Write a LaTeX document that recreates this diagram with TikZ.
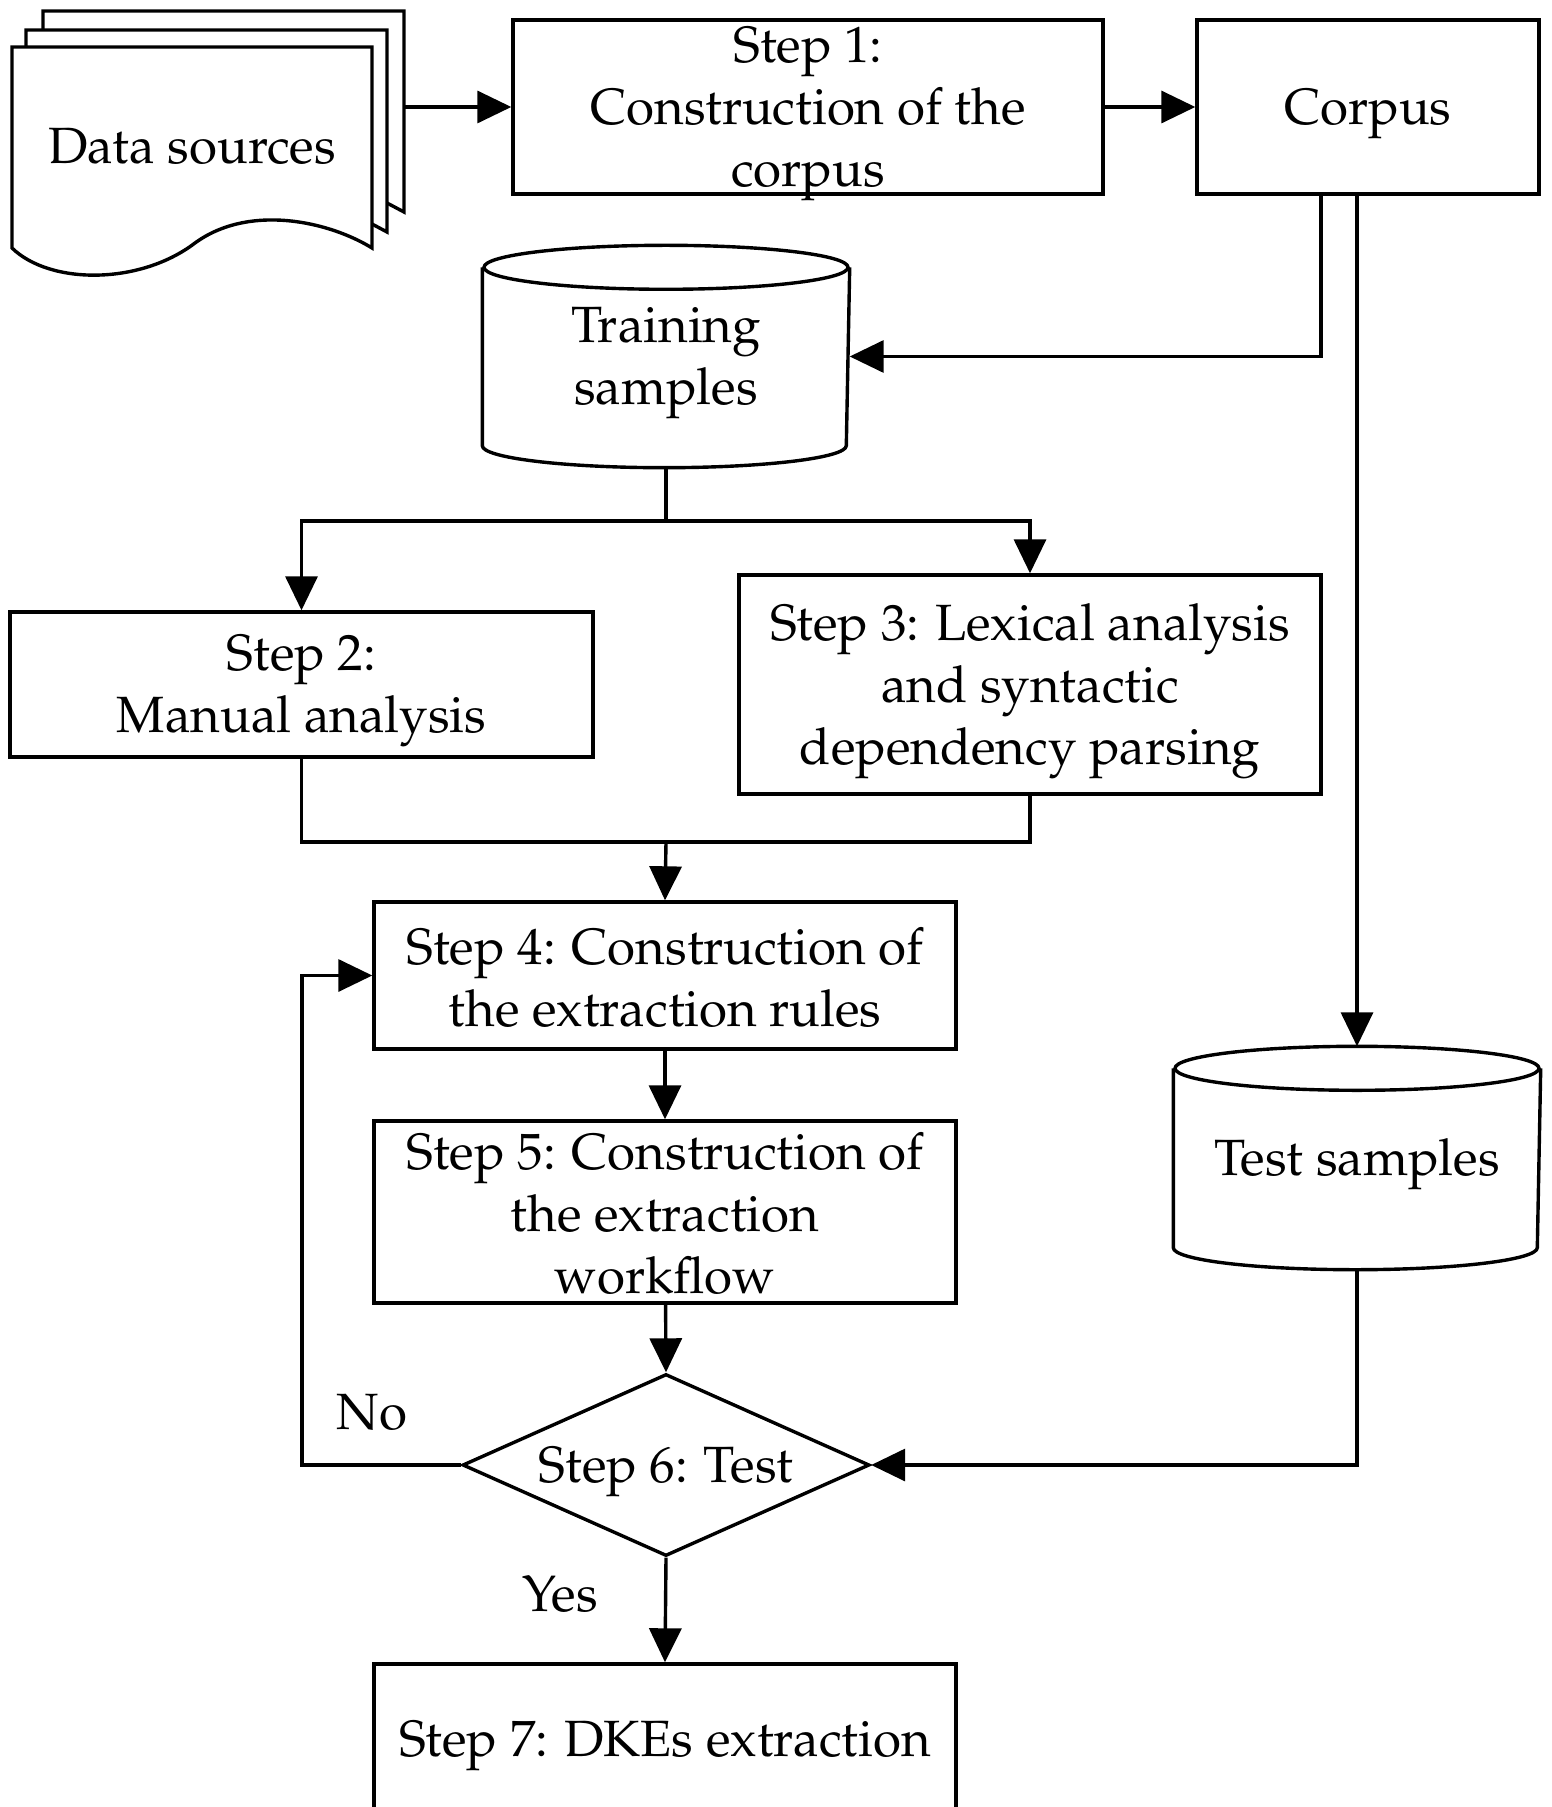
\documentclass[tikz,border=0pt]{standalone}
\usepackage[T1]{fontenc}
\usepackage{mathpazo}
\usetikzlibrary{arrows.meta,shapes.geometric}

\tikzset{
  every node/.style={font=\fontsize{25.5}{31}\selectfont},
  box/.style={draw, line width=1.7pt, inner sep=0pt, minimum width=291pt},
  drum/.style={inner sep=0pt, minimum width=182pt, minimum height=110pt},
  txt/.style={align=center, inner sep=0pt, yshift=-3.3pt},
  arr/.style={line width=1.7pt, -{Triangle[length=17pt,width=16pt]}},
}

\begin{document}
\begin{tikzpicture}[x=5pt, y=-5pt, line width=1.7pt]
  \useasboundingbox (0,0) rectangle (155.1,180.7);

  % data sources (stacked sheets)
  \draw (4.3,3.0) -- (4.3,1.1) -- (40.4,1.1) -- (40.4,21.2) -- (38.7,20.3);
  \draw (2.6,4.7) -- (2.6,3.0) -- (38.7,3.0) -- (38.7,23.2) -- (37.2,22.4);
  \draw (1.2,4.7) -- (37.2,4.7) -- (37.2,24.8)
        .. controls (33,22.2) and (25,20.3) .. (19.5,24.3)
        .. controls (14,28.5) and (5,28.5) .. (1.2,24.8) -- cycle;
  \node (src) at (19.2,14.65) {Data sources};
  \coordinate (srcout) at (40.4,10.7);

  \node[box, minimum width=295pt, minimum height=87pt] (step1) at (80.8,10.7)
    [label={[txt]center:{Step 1:\\Construction of the\\corpus}}] {};
  \node[box, minimum width=171pt, minimum height=87pt] (corpus) at (136.8,10.7)
    [label={[txt]center:{Corpus}}] {};

  % cylinders
  \node[drum, minimum height=109.5pt] (train) at (66.6,35.65)
    [label={[txt]center:{Training\\samples}}] {};
  \node[drum] (test) at (135.7,115.8)
    [label={[txt]center:{Test samples}}] {};
  \foreach \c in {train,test} {
    \draw ([yshift=-11pt]\c.north west) -- ([yshift=11pt]\c.south west)
      arc[start angle=180, end angle=360, x radius=91pt, y radius=11pt]
      -- ([yshift=-11pt]\c.north east);
    \draw ([yshift=-11pt]\c.north) ellipse [x radius=91pt, y radius=11pt];
  }

  \node[box, minimum width=291.5pt, minimum height=72.5pt] (step2) at (30.15,68.45)
    [label={[txt]center:{Step 2:\\Manual analysis}}] {};
  \node[box, minimum height=109.5pt] (step3) at (103,68.45)
    [label={[txt]center:{Step 3: Lexical analysis\\and syntactic\\dependency parsing}}] {};
  \node[box, minimum height=73.5pt] (step4) at (66.5,97.55)
    [label={[txt, yshift=2.5pt]center:{Step 4: Construction of\\the extraction rules}}] {};
  \node[box, minimum height=91pt] (step5) at (66.5,121.2)
    [label={[txt, yshift=2.5pt]center:{Step 5: Construction of\\the extraction\\workflow}}] {};
  \node[draw, diamond, inner sep=0pt, minimum width=203.5pt, minimum height=91pt] (check) at (66.6,146.5)
    [label={[txt]center:{Step 6: Test}}] {};
  \node[box, minimum height=75pt] (step7) at (66.5,173.9)
    [label={[txt]center:{Step 7: DKEs extraction}}] {};

  \node (no) at (37.2,141.2) {No};
  \node (yes) at (56,159.4) {Yes};

  \coordinate (split) at (66.6,52.1);
  \coordinate (merge) at (66.6,84.2);
  \coordinate (loop) at (30.2,97.55);

  \draw[arr] (srcout) -- (step1);
  \draw[arr] (step1) -- (corpus);
  \draw[arr] ([xshift=-23.5pt]corpus.south) |- (train.east);
  \draw[arr] (corpus.south -| test.north) -- (test.north);
  \draw (train.south) -- (split);
  \draw[arr] (split) -| (step2.north);
  \draw[arr] (split) -| (step3.north);
  \draw (step2.south) |- (merge) -| (step3.south);
  \draw[arr] (merge) -- (step4.north);
  \draw[arr] (step4) -- (step5);
  \draw[arr] (step5) -- (check.north);
  \draw[arr] (test.south) |- (check.east);
  \draw[arr] (check.west) -| (loop) -- (step4.west);
  \draw[arr] (check.south) -- (step7.north);

\end{tikzpicture}
\end{document}
